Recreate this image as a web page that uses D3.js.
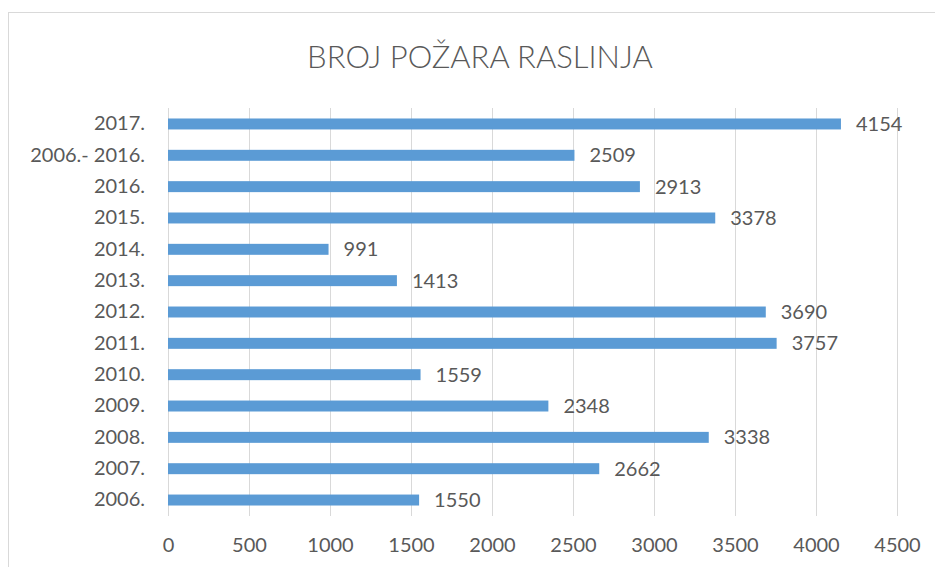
<!DOCTYPE html>
<meta charset="UTF-8">
<style>
  body { margin: 0; background: #fff; }
  text { font-family: Lato, "Open Sans", sans-serif; fill: #595959; }
</style>
<svg width="935" height="567"></svg>
<script src="https://d3js.org/d3.v7.min.js"></script>
<script>

var categories = ["2017.", "2006.- 2016.", "2016.", "2015.", "2014.", "2013.", "2012.",
                  "2011.", "2010.", "2009.", "2008.", "2007.", "2006."];
var fires = [4154, 2509, 2913, 3378, 991, 1413, 3690, 3757, 1559, 2348, 3338, 2662, 1550];
var ticks = [0, 500, 1000, 1500, 2000, 2500, 3000, 3500, 4000, 4500];

var svg = d3.select("svg");

// chart frame
svg.append("rect")
    .attr("x", 8.5).attr("y", 12.5)
    .attr("width", 940).attr("height", 570)
    .attr("fill", "none")
    .attr("stroke", "#d9d9d9");

svg.append("text")
    .attr("x", 480).attr("y", 68)
    .attr("text-anchor", "middle")
    .style("font-size", "31px")
    .style("font-weight", 300)
    .text("BROJ POŽARA RASLINJA");

var x = d3.scaleLinear().domain([0, 4500]).range([168, 897]);
var y = d3.scaleBand().domain(categories).range([108.3, 515.7])
    .paddingInner(0.65).paddingOuter(0.325);

// gridlines
svg.append("g").selectAll("line")
    .data(ticks)
    .enter().append("line")
    .attr("x1", function(d) { return Math.round(x(d)) + 0.5; })
    .attr("x2", function(d) { return Math.round(x(d)) + 0.5; })
    .attr("y1", 108).attr("y2", 516)
    .attr("stroke", "#d9d9d9");

var xAxis = svg.append("g")
    .attr("transform", "translate(0,516)")
    .call(d3.axisBottom(x).tickValues(ticks).tickFormat(d3.format("d")).tickSize(0).tickPadding(22));
xAxis.select(".domain").remove();
xAxis.selectAll("text").style("font-size", "20px").attr("fill", "#595959");

var yAxis = svg.append("g")
    .attr("transform", "translate(168,0)")
    .call(d3.axisLeft(y).tickSize(0).tickPadding(23));
yAxis.select(".domain").remove();
yAxis.selectAll("text").style("font-size", "20px").attr("fill", "#595959");

var data = categories.map(function(c, i) { return {cat: c, v: fires[i]}; });

svg.append("g").selectAll("rect")
    .data(data)
    .enter().append("rect")
    .attr("x", x(0))
    .attr("y", function(d) { return y(d.cat); })
    .attr("width", function(d) { return x(d.v) - x(0); })
    .attr("height", y.bandwidth())
    .attr("fill", "#5b9bd5");

svg.append("g").selectAll("text")
    .data(data)
    .enter().append("text")
    .attr("x", function(d) { return x(d.v) + 15; })
    .attr("y", function(d) { return y(d.cat) + y.bandwidth() / 2; })
    .attr("dy", "0.35em")
    .style("font-size", "20px")
    .text(function(d) { return d.v; });

</script>
